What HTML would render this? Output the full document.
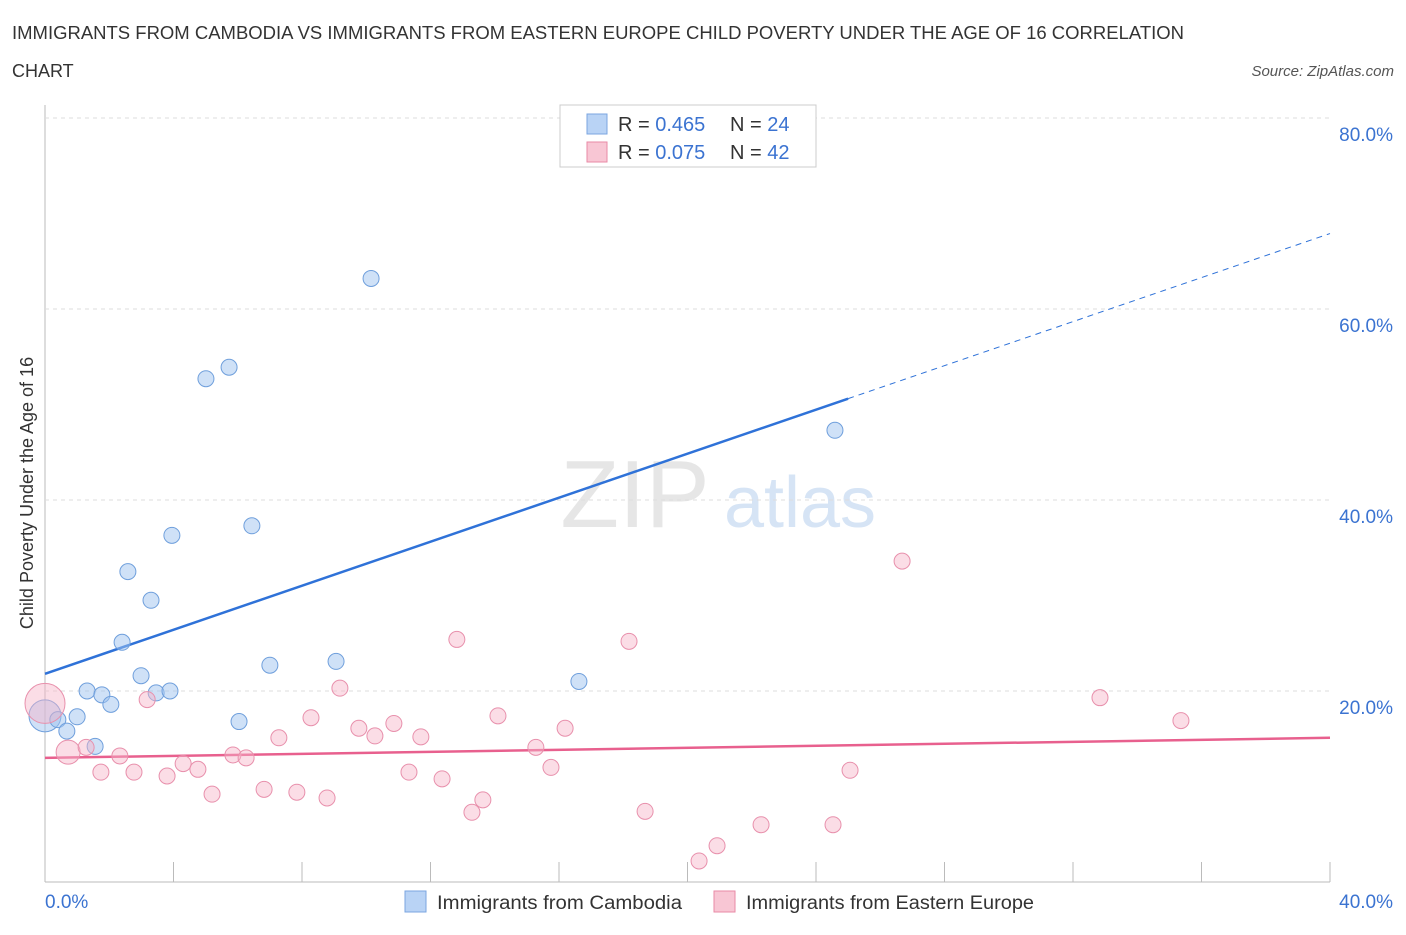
<!DOCTYPE html>
<html><head><meta charset="utf-8"><style>
body{margin:0;background:#fff;font-family:"Liberation Sans",sans-serif}
svg text{font-family:"Liberation Sans",sans-serif}
</style></head><body>
<svg width="1406" height="930" id="c">
<text x="12" y="39" font-size="18" fill="#333" textLength="1172" lengthAdjust="spacingAndGlyphs">IMMIGRANTS FROM CAMBODIA VS IMMIGRANTS FROM EASTERN EUROPE CHILD POVERTY UNDER THE AGE OF 16 CORRELATION</text>
<text x="12" y="77" font-size="18" fill="#333">CHART</text>
<text x="1394" y="76" font-size="15" fill="#555" font-style="italic" text-anchor="end">Source: ZipAtlas.com</text>
<text x="635" y="527" font-size="96" fill="#e6e6e6" font-family="Liberation Serif" text-anchor="middle">ZIP</text>
<text x="800" y="527" font-size="72" fill="#d6e4f5" text-anchor="middle">atlas</text>
<text transform="translate(33,493) rotate(-90)" font-size="18" fill="#333" text-anchor="middle">Child Poverty Under the Age of 16</text>
<g id="grid"></g><g id="lines"></g><g id="pts"></g>
<g>
<rect x="560" y="105" width="256" height="62" fill="#fff" stroke="#ccc"/>
<rect x="587" y="114" width="20" height="20" fill="#b9d3f5" stroke="#7ba6e0"/>
<text x="618" y="131" font-size="20" fill="#333">R = <tspan fill="#3b73d1">0.465</tspan></text>
<text x="730" y="131" font-size="20" fill="#333">N = <tspan fill="#3b73d1">24</tspan></text>
<rect x="587" y="142" width="20" height="20" fill="#f8c6d4" stroke="#e88aa6"/>
<text x="618" y="159" font-size="20" fill="#333">R = <tspan fill="#3b73d1">0.075</tspan></text>
<text x="730" y="159" font-size="20" fill="#333">N = <tspan fill="#3b73d1">42</tspan></text>
</g>
<g>
<rect x="405" y="891" width="21" height="21" fill="#b9d3f5" stroke="#7ba6e0"/>
<text x="437" y="909" font-size="19" fill="#333" textLength="245" lengthAdjust="spacingAndGlyphs">Immigrants from Cambodia</text>
<rect x="714" y="891" width="21" height="21" fill="#f8c6d4" stroke="#e88aa6"/>
<text x="746" y="909" font-size="19" fill="#333" textLength="288" lengthAdjust="spacingAndGlyphs">Immigrants from Eastern Europe</text>
</g>
</svg>
<script>
const yTicks=[20,40,60,80];
const xTickVals=[0,4,8,12,16,20,24,28,32,36,40];
const blueX=[0,0.40,0.68,1.00,1.31,1.56,1.77,2.05,2.40,2.58,2.99,3.30,3.46,3.89,3.95,5.01,5.73,6.04,6.44,7.00,9.06,10.15,16.62,24.59];
const blueY=[17.4,17.0,15.8,17.3,20.0,14.2,19.6,18.6,25.1,32.5,21.6,29.5,19.8,20.0,36.3,52.7,53.9,16.8,37.3,22.7,23.1,63.2,21.0,47.3];
const blueR=[16,8,8,8,8,8,8,8,8,8,8,8,8,8,8,8,8,8,8,8,8,8,8,8];
const pinkX=[0,0.72,1.28,1.74,2.33,2.77,3.18,3.80,4.30,4.76,5.20,5.85,6.26,6.82,7.28,7.84,8.28,8.78,9.18,9.77,10.27,10.86,11.33,11.70,12.36,12.82,13.29,13.63,14.10,15.28,15.75,16.19,18.18,18.68,20.36,20.92,22.29,24.53,25.06,26.68,32.84,35.36];
const pinkY=[18.7,13.6,14.1,11.5,13.2,11.5,19.1,11.1,12.4,11.8,9.2,13.3,13.0,9.7,15.1,9.4,17.2,8.8,20.3,16.1,15.3,16.6,11.5,15.2,10.8,25.4,7.3,8.6,17.4,14.1,12.0,16.1,25.2,7.4,2.2,3.8,6.0,6.0,11.7,33.6,19.3,16.9];
const pinkR=[20,12,8,8,8,8,8,8,8,8,8,8,8,8,8,8,8,8,8,8,8,8,8,8,8,8,8,8,8,8,8,8,8,8,8,8,8,8,8,8,8,8];
const blueTrend=[21.8,67.9];
const pinkTrend=[13.0,15.1];
const sx=v=>45+v*32.125, sy=v=>882-v*9.55;
const NS='http://www.w3.org/2000/svg';
function mk(p,t,a){const e=document.createElementNS(NS,t);for(const k in a)e.setAttribute(k,a[k]);document.getElementById(p).appendChild(e);return e;}
const ax=mk('grid','line',{x1:45,y1:105,x2:45,y2:882,stroke:'#bbb'});


const bx=mk('grid','line',{x1:45,y1:882,x2:1330,y2:882,stroke:'#bbb'});


yTicks.forEach(t=>{
 const g=mk('grid','line',{x1:45,y1:sy(t),x2:1330,y2:sy(t),stroke:'#ddd','stroke-dasharray':'4,4'});
 
 
 const l=mk('grid','text',{x:1393,y:sy(t)+23,'font-size':19,fill:'#3b73d1','text-anchor':'end'});
 l.textContent=t.toFixed(1)+'%';
 
 
});
xTickVals.forEach(t=>{
 const k=mk('grid','line',{x1:sx(t),y1:862,x2:sx(t),y2:882,stroke:'#bbb'});
 
 
});
[[0,'start',45],[40,'end',1393]].forEach(([v,a,x])=>{
 const l=mk('grid','text',{x:x,y:908,'font-size':19,fill:'#3b73d1','text-anchor':a});
 l.textContent=v.toFixed(1)+'%';
 
 
});
const bs=(blueTrend[1]-blueTrend[0])/40;
const b1=mk('lines','line',{x1:sx(0),y1:sy(blueTrend[0]),x2:sx(25),y2:sy(blueTrend[0]+bs*25),stroke:'#2f72d8','stroke-width':2.5});


const b2=mk('lines','line',{x1:sx(25),y1:sy(blueTrend[0]+bs*25),x2:sx(40),y2:sy(blueTrend[1]),stroke:'#2f72d8','stroke-width':1,'stroke-dasharray':'6,5'});


const p1=mk('lines','line',{x1:sx(0),y1:sy(pinkTrend[0]),x2:sx(40),y2:sy(pinkTrend[1]),stroke:'#e8608e','stroke-width':2.5});


blueX.forEach((x,i)=>{
 const c=mk('pts','circle',{cx:sx(x),cy:sy(blueY[i]),r:blueR[i],fill:'rgba(160,196,240,0.5)',stroke:'#6f9fdc','stroke-width':1});
 
 
});
pinkX.forEach((x,i)=>{
 const c=mk('pts','circle',{cx:sx(x),cy:sy(pinkY[i]),r:pinkR[i],fill:'rgba(246,180,200,0.45)',stroke:'#e890ac','stroke-width':1});
 
 
});
</script>
</body></html>
